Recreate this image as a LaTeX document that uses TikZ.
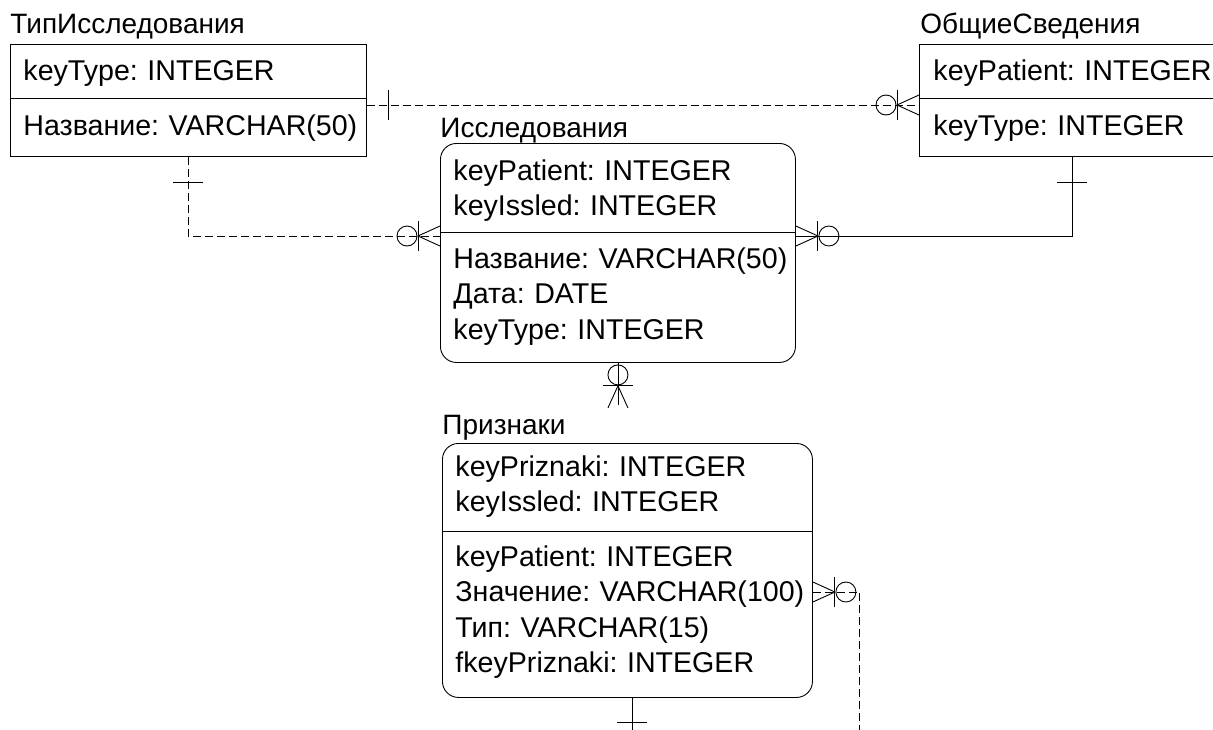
\documentclass[tikz,border=0pt]{standalone}
\usepackage{fontspec}
\setmainfont{Liberation Sans}
\usetikzlibrary{calc}
\frenchspacing

\tikzset{
    crowfoot/.pic={\draw (0,0) -- (22pt,10pt) (0,0) -- (22pt,-10pt);},
    onebar/.pic={\draw (0,-15pt) -- (0,15pt);},
    ring/.pic={\draw (0,0) circle (10pt);}
}

\begin{document}
\begin{tikzpicture}[
    x=1pt, y=-1pt, line width=0.9pt,
    entity/.style={draw, anchor=north west, inner sep=0pt},
    weak/.style={entity, rounded corners=16pt},
    title/.style={anchor=base west, inner xsep=0pt, inner ysep=9pt, font=\fontsize{28}{34}\selectfont},
    field/.style={anchor=base west, inner sep=0pt, align=left, text width=450pt, font=\fontsize{28.6}{35.5}\selectfont},
    link/.style={draw},
    dlink/.style={dash pattern=on 8pt off 4pt}
]
    \clip (0,0) rectangle (1213,729);
    \fill[white] (0,0) rectangle (1213,729);

    \node[entity, minimum width=356pt, minimum height=112pt] (tip) at (10,44) {};
    \node[entity, minimum width=306pt, minimum height=112pt] (obs) at (919,44) {};
    \node[weak, minimum width=355pt, minimum height=219pt] (iss) at (440,143) {};
    \node[weak, minimum width=370pt, minimum height=254pt] (pr) at (442,443) {};

    \node[title] (tipT) at (10,33) {ТипИсследования};
    \node[title] (obsT) at (920,33) {ОбщиеСведения};
    \node[title] (issT) at (440,137) {Исследования};
    \node[title] (prT) at (442,434) {Признаки};

    \node[field] (tipK) at (23,80) {keyType: INTEGER};
    \node[field] (tipA) at (23,135) {Название: VARCHAR(50)};
    \node[field] (obsK) at (933,80) {keyPatient: INTEGER};
    \node[field] (obsA) at (933,135) {keyType: INTEGER};
    \node[field] (issK) at (453,180) {keyPatient: INTEGER\\keyIssled: INTEGER};
    \node[field] (issA) at (453,268) {Название: VARCHAR(50)\\Дата: DATE\\keyType: INTEGER};
    \node[field] (prK) at (455,476) {keyPriznaki: INTEGER\\keyIssled: INTEGER};
    \node[field] (prA) at (455,566) {keyPatient: INTEGER\\Значение: VARCHAR(100)\\Тип: VARCHAR(15)\\fkeyPriznaki: INTEGER};

    \draw ($(tip.north west)+(0,54)$) -- ($(tip.north east)+(0,54)$);
    \draw ($(obs.north west)+(0,54)$) -- ($(obs.north east)+(0,54)$);
    \draw ($(iss.north west)+(0,89)$) -- ($(iss.north east)+(0,89)$);
    \draw ($(pr.north west)+(0,88)$) -- ($(pr.north east)+(0,88)$);

    \coordinate (tipR) at ($(tip.north east)+(0,61)$);
    \coordinate (obsL) at ($(obs.north west)+(0,61)$);
    \coordinate (issL) at ($(iss.north west)+(0,93)$);
    \coordinate (issR) at ($(iss.north east)+(0,93)$);
    \coordinate (prR) at ($(pr.north east)+(0,149)$);
    \coordinate (prB) at ($(pr.south)+(5,0)$);
    \coordinate (offA) at ($(pr.south)+(5,60)$);
    \coordinate (offB) at ($(prR)+(47,160)$);

    \draw[dlink] (tipR) -- (obsL);
    \draw[dlink] (tip.south) |- (issL);
    \draw[link] (issR) -| (obs.south);
    \draw[link] (iss.south) -- (iss.south |- prT.north);
    \draw[dlink] (prR) -| (offB);
    \draw[link] (prB) -- (offA);

    \pic at ($(tipR)+(22,0)$) {onebar};
    \pic at ($(obsL)+(-22,0)$) {crowfoot};
    \pic at ($(obsL)+(-22,0)$) {onebar};
    \pic at ($(obsL)+(-33,0)$) {ring};

    \pic[rotate=90] at ($(tip.south)+(0,26)$) {onebar};
    \pic at ($(issL)+(-22,0)$) {crowfoot};
    \pic at ($(issL)+(-22,0)$) {onebar};
    \pic at ($(issL)+(-33,0)$) {ring};

    \pic[rotate=180] at ($(issR)+(22,0)$) {crowfoot};
    \pic at ($(issR)+(22,0)$) {onebar};
    \pic at ($(issR)+(33,0)$) {ring};
    \pic[rotate=90] at ($(obs.south)+(0,26)$) {onebar};

    \pic at ($(iss.south)+(0,12)$) {ring};
    \pic[rotate=90] at ($(iss.south)+(0,23)$) {onebar};
    \pic[rotate=-90] at ($(iss.south)+(0,23)$) {crowfoot};

    \pic[rotate=180] at ($(prR)+(22,0)$) {crowfoot};
    \pic at ($(prR)+(22,0)$) {onebar};
    \pic at ($(prR)+(33,0)$) {ring};
    \pic[rotate=90] at ($(prB)+(0,25)$) {onebar};
\end{tikzpicture}
\end{document}
